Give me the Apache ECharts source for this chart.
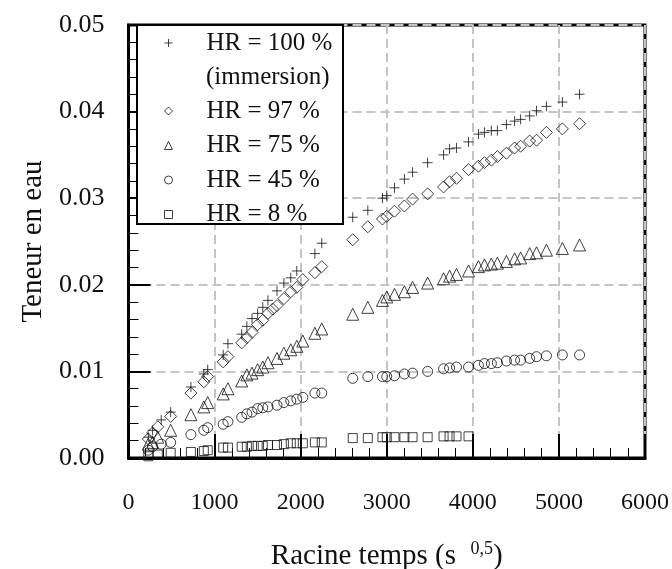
<!DOCTYPE html>
<html><head><meta charset="utf-8">
<script src="https://cdn.jsdelivr.net/npm/echarts@6/dist/echarts.min.js"></script>
<style>html,body{margin:0;padding:0;background:#fff}#c{width:672px;height:569px}</style>
</head><body><div id="c"></div>
<script>
// Racine temps (s^0.5)
const times = [230, 280, 340, 380, 490, 725, 875, 920, 1100, 1155, 1315, 1375, 1435, 1500, 1560, 1620,
  1675, 1725, 1805, 1885, 1955, 2025, 2165, 2245, 2605, 2780, 2950, 3000, 3090, 3205, 3300, 3475,
  3660, 3730, 3810, 3950, 4065, 4135, 4215, 4285, 4390, 4485, 4555, 4660, 4740, 4855, 5040, 5240];
// Teneur en eau
const hr100 = [0.0024, 0.0032, null, 0.0044, 0.0053, 0.0082, 0.0097, 0.0102, 0.0119, 0.0132, 0.0143, 0.0152,
  0.0161, 0.0167, 0.0174, 0.0182, null, 0.0193, 0.0202, 0.0208, 0.0216, null, 0.0236, 0.0248,
  0.0278, 0.0286, 0.0300, 0.0303, 0.0312, 0.0322, 0.0330, 0.0341, 0.0350, 0.0357, 0.0358, 0.0365,
  0.0374, 0.0376, 0.0378, 0.0378, 0.0385, 0.0389, 0.0391, 0.0395, 0.0401, 0.0406, 0.0411, 0.0420];
const hr97 = [0.0022, 0.0029, 0.0036, null, 0.0048, 0.0075, 0.0088, 0.0094, 0.0111, 0.0117, 0.0133, 0.0139,
  0.0145, 0.0154, 0.0159, 0.0167, 0.0172, 0.0176, 0.0184, 0.0192, 0.0197, 0.0206, 0.0214, 0.0221,
  0.0252, 0.0267, 0.0276, 0.0279, 0.0285, 0.0291, 0.0299, 0.0305, 0.0313, 0.0319, 0.0323, 0.0333,
  0.0337, 0.0341, 0.0344, 0.0348, 0.0352, 0.0358, 0.0360, 0.0366, 0.0367, 0.0376, 0.0380, 0.0386];
const hr75 = [0.0016, 0.0018, 0.0024, null, 0.0032, 0.0050, 0.0059, 0.0064, 0.0074, 0.0080, 0.0089, 0.0096,
  0.0098, 0.0102, 0.0105, 0.0110, null, 0.0115, 0.0121, 0.0125, 0.0129, 0.0135, 0.0144, 0.0149,
  0.0166, 0.0174, 0.0182, 0.0186, 0.0189, 0.0192, 0.0197, 0.0202, 0.0207, 0.0210, 0.0212, 0.0216,
  0.0221, 0.0223, 0.0224, 0.0225, 0.0227, 0.0230, 0.0231, 0.0236, 0.0237, 0.0240, 0.0242, 0.0246];
const hr45 = [0.0009, 0.0013, null, 0.0016, 0.0018, 0.0027, 0.0032, 0.0035, 0.0039, 0.0042, 0.0047, 0.0051,
  0.0053, 0.0057, 0.0058, 0.0059, null, 0.0061, 0.0064, 0.0066, 0.0068, 0.0070, 0.0075, 0.0075,
  0.0092, 0.0094, 0.0094, 0.0094, 0.0095, 0.0097, 0.0098, 0.0100, 0.0103, 0.0104, 0.0105, 0.0105,
  0.0107, 0.0109, 0.0109, 0.0110, 0.0112, 0.0113, 0.0113, 0.0115, 0.0117, 0.0118, 0.0119, 0.0119];
const hr8 = [0.0002, null, 0.0004, null, 0.0006, 0.0007, 0.0008, 0.0009, 0.0012, 0.0012, 0.0013, 0.0013,
  0.0014, 0.0014, 0.0014, 0.0015, null, 0.0015, 0.0016, 0.0017, 0.0017, 0.0017, 0.0018, 0.0018,
  0.0023, 0.0023, 0.0024, 0.0024, 0.0024, 0.0024, 0.0024, 0.0024, 0.0025, 0.0025, 0.0025, 0.0025,
  null, null, null, null, null, null, null, null, null, null, null, null];
const seriesNames = ['HR = 100 %', 'HR = 97 %', 'HR = 75 %', 'HR = 45 %', 'HR = 8 %'];
const legendNote = '(immersion)';
const xAxisTitle = 'Racine temps (s  {sup|0,5})';
const yAxisTitle = 'Teneur en eau';

const FONT = "'Liberation Serif','Times New Roman',serif";
function pts(ys) { const out = []; ys.forEach((y, i) => { if (y !== null) out.push([times[i], y]); }); return out; }

const symbols = ['path://M0,5L10,5M5,0L5,10', 'diamond', 'triangle', 'circle', 'rect'];
const sizes = [10, 12, 12, 10, 9];
const allY = [hr100, hr97, hr75, hr45, hr8];

const series = allY.map((ys, k) => ({
  name: seriesNames[k], type: 'scatter', data: pts(ys),
  symbol: symbols[k], symbolSize: sizes[k],
  itemStyle: { color: 'rgba(0,0,0,0)', borderColor: '#111', borderWidth: 1 },
  z: 3
}));

const legendCommon = {
  orient: 'vertical', left: 164, padding: 0, itemWidth: 8, itemHeight: 8, itemGap: 9.5,
  selectedMode: false, z: 10,
  textStyle: { fontFamily: FONT, fontSize: 25, color: '#111', lineHeight: 25, padding: [0, 0, 0, 29] },
  itemStyle: { color: 'rgba(0,0,0,0)', borderColor: '#111', borderWidth: 1 }
};

const chart = echarts.init(document.getElementById('c'), null, { renderer: 'canvas' });
chart.setOption({
  animation: false,
  backgroundColor: '#fff',
  grid: { left: 128.5, right: 27, top: 25, bottom: 111, containLabel: false, outerBoundsMode: 'none',
    show: true, borderColor: '#000', borderWidth: 3, backgroundColor: 'transparent' },
  xAxis: {
    type: 'value', min: 0, max: 6000, interval: 1000,
    name: xAxisTitle, nameLocation: 'middle', nameGap: 82,
    nameTextStyle: { fontFamily: FONT, fontSize: 29, color: '#111',
      rich: { sup: { fontFamily: FONT, fontSize: 18, verticalAlign: 'top', padding: [0, 0, 14, 0], color: '#111' } } },
    axisLine: { show: true, lineStyle: { color: '#000', width: 3 } },
    axisTick: { show: true, inside: true, length: 24, lineStyle: { color: '#000', width: 2 } },
    minorTick: { show: true, splitNumber: 5, length: 10, lineStyle: { color: '#000', width: 1 } },
    axisLabel: { fontFamily: FONT, fontSize: 24, color: '#111', margin: 33, formatter: v => String(v) },
    splitLine: { show: true, lineStyle: { color: '#c4c4c4', width: 2, type: [9, 5] } }
  },
  yAxis: {
    type: 'value', min: 0, max: 0.05, interval: 0.01,
    name: yAxisTitle, nameLocation: 'middle', nameGap: 76, nameRotate: 90,
    nameTextStyle: { fontFamily: FONT, fontSize: 29, color: '#111' },
    axisLine: { show: true, lineStyle: { color: '#000', width: 3 } },
    axisTick: { show: true, inside: true, length: 22, lineStyle: { color: '#000', width: 2 } },
    minorTick: { show: true, splitNumber: 5, length: 10, lineStyle: { color: '#000', width: 1 } },
    axisLabel: { fontFamily: FONT, fontSize: 26, color: '#111', margin: 24, formatter: v => v.toFixed(2) },
    splitLine: { show: true, lineStyle: { color: '#c4c4c4', width: 2, type: [9, 5] } }
  },
  legend: [
    Object.assign({}, legendCommon, { top: 30.5, data: [seriesNames[0]] }),
    Object.assign({}, legendCommon, { top: 98.5, data: seriesNames.slice(1) })
  ],
  graphic: [
    { type: 'rect', shape: { x: 137, y: 25, width: 206, height: 199 }, style: { fill: '#fff', stroke: '#000', lineWidth: 2 }, z: 5 },
    { type: 'text', x: 206, y: 77, z: 11, style: { text: legendNote, fontFamily: FONT, fontSize: 25, fill: '#111', verticalAlign: 'middle' } }
  ],
  series: series
});
</script>
</body></html>
